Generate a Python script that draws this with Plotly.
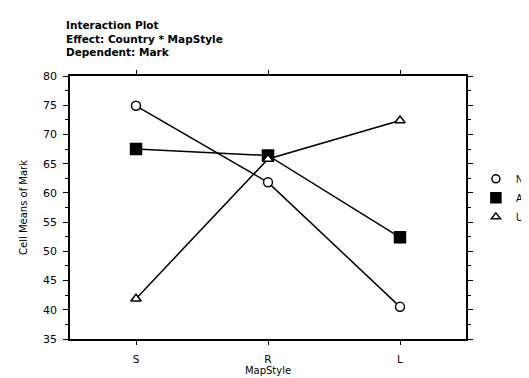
import plotly.graph_objects as go

categories = ["S", "R", "L"]
series_names = ["NZ", "A", "UK"]
nz = [74.9, 61.8, 40.5]
a_vals = [67.5, 66.4, 52.4]
uk = [41.9, 65.8, 72.4]
values = [nz, a_vals, uk]
symbols = ["circle", "square", "triangle-up"]
fills = ["white", "black", "white"]
sizes = [9, 11, 9]

FONT = "DejaVu Sans"
fig = go.Figure()
for name, vals, sym, fill, sz in zip(series_names, values, symbols, fills, sizes):
    fig.add_trace(go.Scatter(
        x=categories, y=vals, mode="lines+markers", name=name, showlegend=False,
        line=dict(color="black", width=1.5),
        marker=dict(symbol=sym, size=sz, color=fill,
                    line=dict(color="black", width=1.5)),
        cliponaxis=False,
    ))
    # legend entry (marker only)
    fig.add_trace(go.Scatter(
        x=[None], y=[None], mode="markers", name=name, showlegend=True,
        marker=dict(symbol=sym, size=sz - 1, color=fill,
                    line=dict(color="black", width=1.5)),
    ))

fig.update_layout(
    width=529, height=378,
    margin=dict(l=62, r=71, t=68, b=47, autoexpand=False),
    paper_bgcolor="white", plot_bgcolor="white",
    font=dict(family=FONT, size=10, color="black"),
    showlegend=True,
    legend=dict(x=1.025, y=0.664, xanchor="left", yanchor="top",
                font=dict(family="Liberation Sans", size=10, color="black"), itemwidth=30,
                tracegroupgap=4, bgcolor="rgba(0,0,0,0)"),
    xaxis=dict(
        type="category", range=[-0.5, 2.5], automargin=False,
        showline=True, linecolor="black", linewidth=1.5, mirror="ticks",
        ticks="outside", ticklen=4, tickcolor="black", tickwidth=1.2,
        ticklabelstandoff=6,
        showgrid=False, zeroline=False,
        title=dict(text="MapStyle", font=dict(family=FONT, size=10, color="black"), standoff=3),
        tickfont=dict(family=FONT, size=10.5, color="black"),
    ),
    yaxis=dict(
        range=[35, 80], dtick=5, tick0=35, automargin=False,
        showline=True, linecolor="black", linewidth=1.5, mirror="ticks",
        ticks="outside", ticklen=5, tickcolor="black", tickwidth=1.2,
        ticklabelstandoff=4,
        minor=dict(dtick=2.5, ticks="outside", ticklen=3, tickcolor="black", tickwidth=1.2),
        showgrid=False, zeroline=False,
        title=dict(text="Cell Means of Mark", font=dict(family=FONT, size=10, color="black"), standoff=14),
        tickfont=dict(family=FONT, size=11, color="black"),
    ),
    annotations=[dict(
        text="<b>Interaction Plot<br>Effect: Country * MapStyle<br>Dependent: Mark</b>",
        xref="paper", yref="paper", x=-0.014, y=1 + 16 / 264, xanchor="left", yanchor="bottom",
        align="left", showarrow=False, font=dict(family=FONT, size=10.5, color="black"),
    )],
)

fig.write_html("out.html")
